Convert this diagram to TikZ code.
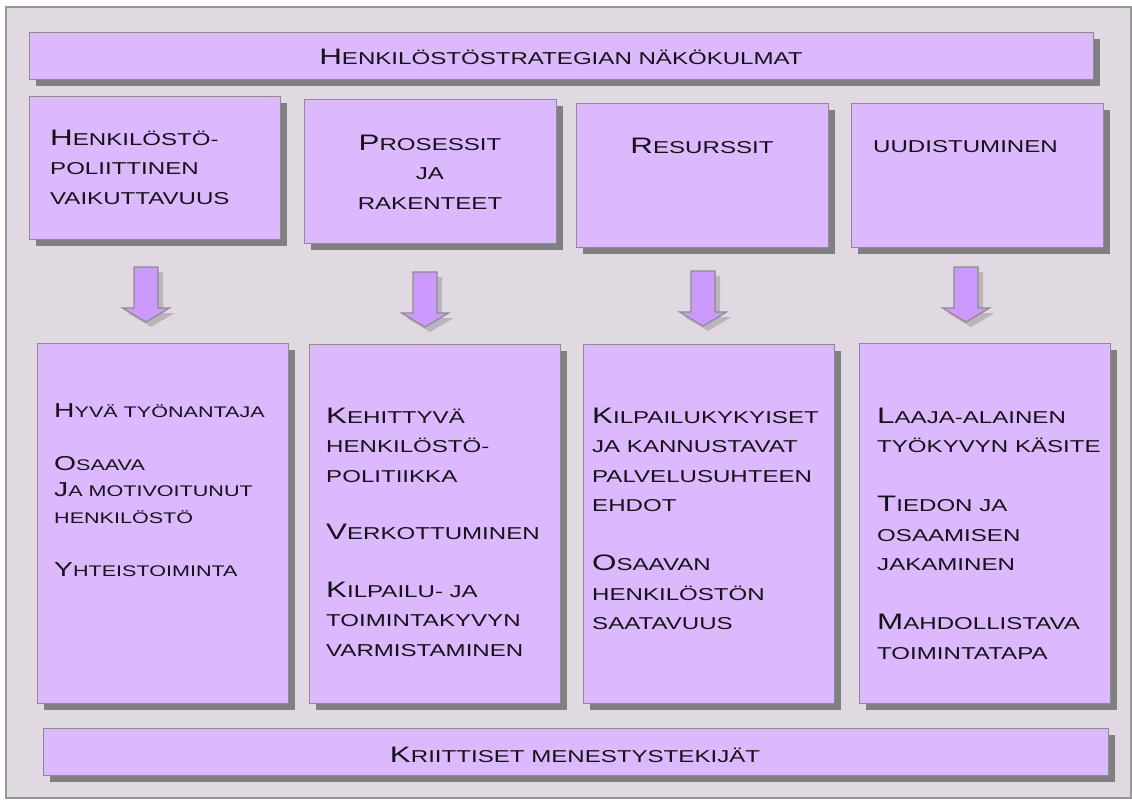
\documentclass[tikz,border=0pt]{standalone}
\usepackage{fontspec}
\setmainfont{Liberation Sans}[FakeStretch=1.4]
\usetikzlibrary{shadows}

\definecolor{panelbg}{RGB}{225,217,225}
\definecolor{framegray}{RGB}{150,150,150}
\definecolor{cardfill}{RGB}{220,184,255}
\definecolor{arrowfill}{RGB}{204,153,255}
\definecolor{edgegray}{RGB}{140,140,140}
\definecolor{shadowgray}{RGB}{128,128,128}
\definecolor{ink}{RGB}{20,20,20}

% fake small caps: larger initial capitals, smaller capitals for the rest
\newcommand\iniSize{22.4}
\newcommand\Ini[1]{{\fontsize{\iniSize}{29.5}\selectfont #1}}
\newcommand\bodyfont{\fontsize{17.2}{29.5}\selectfont}
\newcommand\smallbodyfont{\fontsize{15.4}{26.5}\selectfont\def\iniSize{20.2}}

\tikzset{
  card/.style={draw=edgegray, line width=1.2pt, fill=cardfill, inner sep=0pt,
    anchor=north west,
    drop shadow={shadow xshift=6pt, shadow yshift=-6pt, fill=shadowgray, opacity=1}},
  txt/.style={inner sep=0pt, text=ink, font=\bodyfont},
  arrowbody/.style={draw=edgegray, line width=1.2pt, fill=arrowfill, line join=miter},
  arrowshade/.style={fill=shadowgray, opacity=0.4},
}

% card from its top-left corner to its bottom-right corner
\newcommand\cardbox[5]{%
  \node[card, minimum width={#4pt-#2pt}, minimum height={#5pt-#3pt}] (#1) at (#2,#3) {};}

% block arrow pointing down: centre x, top y
\newcommand\blockarrow[2]{%
  \fill[arrowshade, shift={(5,5)}]
    ({#1-12},#2) -- ({#1+12},#2) -- ({#1+12},{#2+41}) -- ({#1+23.5},{#2+41})
    -- (#1,{#2+55}) -- ({#1-23.5},{#2+41}) -- ({#1-12},{#2+41}) -- cycle;
  \draw[arrowbody]
    ({#1-12},#2) -- ({#1+12},#2) -- ({#1+12},{#2+41}) -- ({#1+23.5},{#2+41})
    -- (#1,{#2+55}) -- ({#1-23.5},{#2+41}) -- ({#1-12},{#2+41}) -- cycle;}

\begin{document}
\begin{tikzpicture}[x=1pt,y=-1pt]
\useasboundingbox (0,0) rectangle (1132,800);

% panel
\draw[draw=framegray, fill=panelbg, line width=1.5pt] (6,7) rectangle (1131,798);

% heading bar
\cardbox{head}{29}{32}{1093}{79}
\node[txt, anchor=base] (headtxt) at (561,65) {\Ini{H}ENKILÖSTÖSTRATEGIAN NÄKÖKULMAT};

% upper row
\cardbox{t1}{29}{96}{280}{239}
\cardbox{t2}{304}{99}{556}{243}
\cardbox{t3}{576}{103}{828}{247}
\cardbox{t4}{851}{103}{1103}{247}

\node[txt, anchor=base west] (t1txt) at (50,145)
  {\begin{tabular}[t]{@{}l@{}}\Ini{H}ENKILÖSTÖ-\\POLIITTINEN\\VAIKUTTAVUUS\end{tabular}};
\node[txt, anchor=base] (t2txt) at (430,150)
  {\begin{tabular}[t]{@{}c@{}}\Ini{P}ROSESSIT\\JA\\RAKENTEET\end{tabular}};
\node[txt, anchor=base] (t3txt) at (702,153) {\Ini{R}ESURSSIT};
\node[txt, anchor=base west] (t4txt) at (873,152) {UUDISTUMINEN};

% arrows
\blockarrow{146}{267}
\blockarrow{425}{272}
\blockarrow{703}{271}
\blockarrow{966}{267}

% lower row
\cardbox{b1}{37}{343}{288}{703}
\cardbox{b2}{309}{344}{560}{703}
\cardbox{b3}{583}{344}{834}{703}
\cardbox{b4}{859}{343}{1110}{703}

\node[txt, font=\smallbodyfont, anchor=base west] (b1txt) at (54,417)
  {\begin{tabular}[t]{@{}l@{}}\Ini{H}YVÄ TYÖNANTAJA\\[26.5pt]
   \Ini{O}SAAVA\\\Ini{J}A MOTIVOITUNUT\\HENKILÖSTÖ\\[26.5pt]
   \Ini{Y}HTEISTOIMINTA\end{tabular}};
\node[txt, anchor=base west] (b2txt) at (326,423)
  {\begin{tabular}[t]{@{}l@{}}\Ini{K}EHITTYVÄ\\HENKILÖSTÖ-\\POLITIIKKA\\[28pt]
   \Ini{V}ERKOTTUMINEN\\[28pt]
   \Ini{K}ILPAILU- JA\\TOIMINTAKYVYN\\VARMISTAMINEN\end{tabular}};
\node[txt, anchor=base west] (b3txt) at (592,423)
  {\begin{tabular}[t]{@{}l@{}}\Ini{K}ILPAILUKYKYISET\\JA KANNUSTAVAT\\PALVELUSUHTEEN\\EHDOT\\[29.5pt]
   \Ini{O}SAAVAN\\HENKILÖSTÖN\\SAATAVUUS\end{tabular}};
\node[txt, anchor=base west] (b4txt) at (877,423)
  {\begin{tabular}[t]{@{}l@{}}\Ini{L}AAJA-ALAINEN\\TYÖKYVYN KÄSITE\\[29.5pt]
   \Ini{T}IEDON JA\\OSAAMISEN\\JAKAMINEN\\[29.5pt]
   \Ini{M}AHDOLLISTAVA\\TOIMINTATAPA\end{tabular}};

% closing bar
\cardbox{foot}{43}{728}{1108}{775}
\node[txt, anchor=base] (foottxt) at (575,762) {\Ini{K}RIITTISET MENESTYSTEKIJÄT};
\end{tikzpicture}
\end{document}
